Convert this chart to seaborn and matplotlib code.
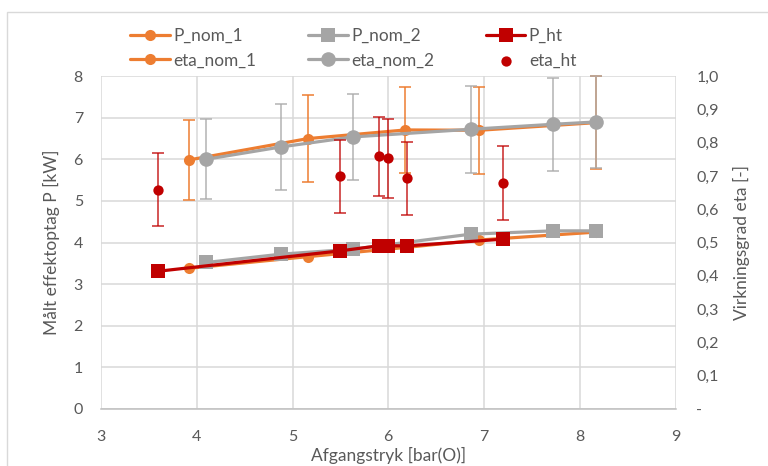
import matplotlib
matplotlib.use("Agg")
import matplotlib.pyplot as plt
import seaborn as sns
from matplotlib.patches import Rectangle
from matplotlib.ticker import FixedLocator

# Nominal pump 1
x_nom_1 = [3.92, 5.16, 6.18, 6.95, 8.17]
p_nom_1 = [3.38, 3.66, 3.88, 4.06, 4.25]
eta_nom_1 = [0.748, 0.812, 0.838, 0.837, 0.860]
eta_nom_1_err = [0.12, 0.13, 0.13, 0.13, 0.14]

# Nominal pump 2
x_nom_2 = [4.10, 4.88, 5.63, 6.86, 7.72, 8.17]
p_nom_2 = [3.52, 3.72, 3.84, 4.20, 4.28, 4.28]
eta_nom_2 = [0.750, 0.787, 0.817, 0.840, 0.855, 0.862]
eta_nom_2_err = [0.12, 0.13, 0.13, 0.13, 0.14, 0.138]

# Measured (ht)
x_ht = [3.60, 5.50, 5.90, 6.00, 6.20, 7.20]
p_ht = [3.31, 3.80, 3.92, 3.92, 3.92, 4.08]
eta_ht = [0.659, 0.699, 0.759, 0.753, 0.693, 0.679]
eta_ht_err = [0.109, 0.109, 0.119, 0.118, 0.110, 0.110]

# Axis ticks
x_ticks = [3, 4, 5, 6, 7, 8, 9]
p_ticks = [0, 1, 2, 3, 4, 5, 6, 7, 8]
eta_ticks = [0.0, 0.1, 0.2, 0.3, 0.4, 0.5, 0.6, 0.7, 0.8, 0.9, 1.0]
eta_tick_labels = ["-", "0,1", "0,2", "0,3", "0,4", "0,5", "0,6", "0,7", "0,8", "0,9", "1,0"]

ORANGE = "#ED7D31"
GRAY = "#A5A5A5"
RED = "#C00000"
TEXT = "#595959"
GRID = "#D9D9D9"

sns.set_theme(style="white")
plt.rcParams["font.family"] = ["Lato", "DejaVu Sans"]

fig = plt.figure(figsize=(7.68, 4.66), dpi=100)
ax = fig.add_axes([101 / 768, 1 - 409 / 466, (675.5 - 101) / 768, (409 - 76) / 466])
ax2 = ax.twinx()

# Power curves (left axis)
sns.lineplot(x=x_nom_1, y=p_nom_1, ax=ax, color=ORANGE, marker="o", markersize=8,
             markeredgewidth=0, linewidth=2.3, sort=False, label="P_nom_1", zorder=3)
sns.lineplot(x=x_nom_2, y=p_nom_2, ax=ax, color=GRAY, marker="s", markersize=10.5,
             markeredgewidth=0, linewidth=2.3, sort=False, label="P_nom_2", zorder=4)
sns.lineplot(x=x_ht, y=p_ht, ax=ax, color=RED, marker="s", markersize=10.5,
             markeredgewidth=0, linewidth=2.3, sort=False, label="P_ht", zorder=5)

# Efficiency curves (right axis)
ax2.errorbar(x_nom_1, eta_nom_1, yerr=eta_nom_1_err, fmt="none", ecolor=ORANGE,
             elinewidth=1.1, capsize=4, capthick=1.1, zorder=2, clip_on=False)
sns.lineplot(x=x_nom_1, y=eta_nom_1, ax=ax2, color=ORANGE, marker="o", markersize=8,
             markeredgewidth=0, linewidth=2.3, sort=False, label="eta_nom_1", zorder=3)
ax2.errorbar(x_nom_2, eta_nom_2, yerr=eta_nom_2_err, fmt="none", ecolor="#ABABAB",
             elinewidth=1.1, capsize=4, capthick=1.1, alpha=0.9, zorder=4, clip_on=False)
sns.lineplot(x=x_nom_2, y=eta_nom_2, ax=ax2, color=GRAY, marker="o", markersize=10.5,
             markeredgewidth=0, linewidth=2.3, sort=False, label="eta_nom_2", zorder=5)
ax2.errorbar(x_ht, eta_ht, yerr=eta_ht_err, fmt="none", ecolor=RED,
             elinewidth=1.1, capsize=4, capthick=1.1, alpha=0.85, zorder=6, clip_on=False)
sns.scatterplot(x=x_ht, y=eta_ht, ax=ax2, color=RED, s=55, linewidth=0,
                label="eta_ht", zorder=7)

# Axes limits and ticks
ax.set_xlim(3, 9)
ax.set_ylim(0, 8)
ax2.set_ylim(0, 1.0)
ax.xaxis.set_major_locator(FixedLocator(x_ticks))
ax.yaxis.set_major_locator(FixedLocator(p_ticks))
ax2.yaxis.set_major_locator(FixedLocator(eta_ticks))
ax2.set_yticklabels(eta_tick_labels)

ax.grid(True, color=GRID, linewidth=1.1)
ax2.grid(False)
ax.set_axisbelow(True)
for side in ["top", "right", "left"]:
    ax.spines[side].set_visible(False)
    ax2.spines[side].set_visible(False)
ax.spines["bottom"].set_color("#BFBFBF")
ax.spines["bottom"].set_linewidth(1.1)
ax2.spines["bottom"].set_visible(False)

ax.tick_params(axis="both", length=0, labelsize=11.5, labelcolor=TEXT)
ax.tick_params(axis="y", pad=13)
ax.tick_params(axis="x", pad=15)
ax2.tick_params(axis="y", length=0, labelsize=11.5, labelcolor=TEXT, pad=15)

ax.set_xlabel("Afgangstryk [bar(O)]", fontsize=12.5, color=TEXT, labelpad=2)
ax.set_ylabel("Målt effektoptag P [kW]", fontsize=12.5, color=TEXT, labelpad=10)
ax2.set_ylabel("Virkningsgrad eta [-]", fontsize=12.5, color=TEXT, labelpad=10)

# Shared legend above the plot
h1, l1 = ax.get_legend_handles_labels()
h2, l2 = ax2.get_legend_handles_labels()
for a in (ax, ax2):
    if a.get_legend() is not None:
        a.get_legend().remove()
lookup = dict(zip(l1 + l2, h1 + h2))
order = ["P_nom_1", "eta_nom_1", "P_nom_2", "eta_nom_2", "P_ht", "eta_ht"]
fig.legend([lookup[k] for k in order], order, loc="center", ncol=3,
           bbox_to_anchor=(0.460, 1 - 48 / 466), frameon=False, fontsize=12.4,
           labelcolor=TEXT, handlelength=2.3, handletextpad=0.2,
           columnspacing=3.0, labelspacing=0.5)

# Chart area outline
fig.patches.append(Rectangle((7 / 768, -0.1), 1.2, 1.1 - 12 / 466,
                             transform=fig.transFigure, fill=False,
                             edgecolor=GRID, linewidth=1))

fig.savefig("out.png", dpi=100)
